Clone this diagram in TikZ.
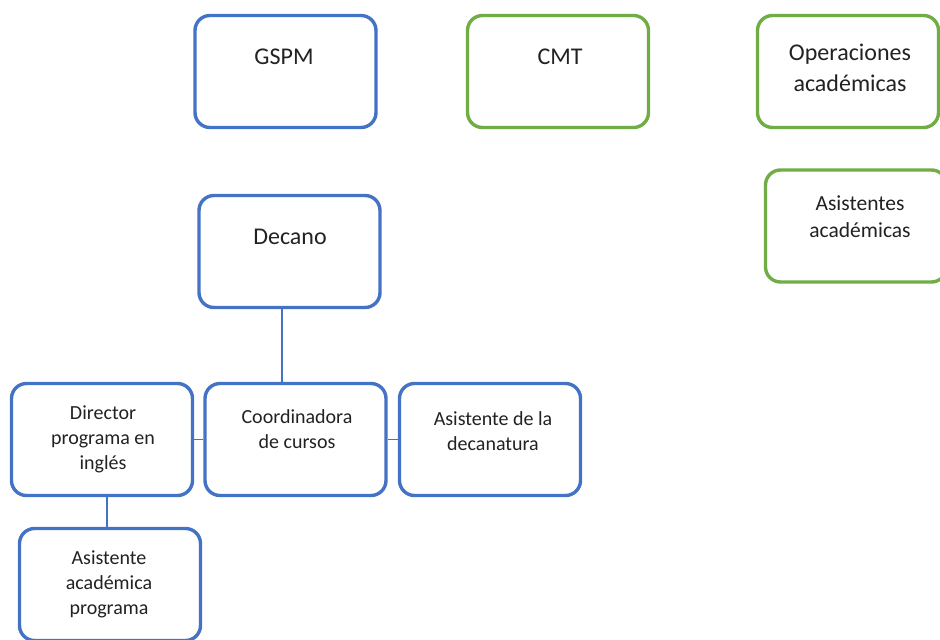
\documentclass[tikz,border=0pt]{standalone}
\usepackage{fontspec}
\setmainfont{Carlito}
\definecolor{boxblue}{HTML}{4472C4}
\definecolor{boxgreen}{HTML}{70AD47}
\definecolor{txtgray}{HTML}{222222}
\begin{document}
\begin{tikzpicture}[x=1pt,y=-1pt,
  orgbox/.style={draw=#1, line width=3.4pt, rounded corners=15pt, fill=white,
    minimum width=181pt, minimum height=112pt, inner sep=0pt},
  bigtxt/.style={text=txtgray, align=center, inner sep=0pt,
    font=\fontsize{24pt}{31pt}\selectfont},
  midtxt/.style={text=txtgray, align=center, inner sep=0pt,
    font=\fontsize{21.5pt}{27pt}\selectfont},
  smalltxt/.style={text=txtgray, align=center, inner sep=0pt,
    font=\fontsize{20pt}{25pt}\selectfont},
  link/.style={draw=boxblue, line width=1.2pt}]
\useasboundingbox (0,0) rectangle (940,640);
\clip (0,0) rectangle (940,640);

% top row
\node[orgbox=boxblue]  (gspm) at (285.5,71.5) {};
\node[orgbox=boxgreen] (cmt)  at (558,71.5) {};
\node[orgbox=boxgreen] (ops)  at (848,71.5) {};
\node[orgbox=boxgreen] (asis) at (856,226) {};
\node[bigtxt] (gspmT) at (284,57) {GSPM};
\node[bigtxt] (cmtT)  at (560,57) {CMT};
\node[bigtxt] (opsT)  at (850,68) {Operaciones\\académicas};
\node[midtxt] (asisT) at (860,216.5) {Asistentes\\académicas};

% dean and his staff
\node[orgbox=boxblue] (dec)  at (289.5,251.5) {};
\node[orgbox=boxblue] (dir)  at (102,439.5) {};
\node[orgbox=boxblue] (coo)  at (295.5,439.5) {};
\node[orgbox=boxblue] (adec) at (490,439.5) {};
\node[orgbox=boxblue] (aprog) at (110,584.5) {};
\node[bigtxt]   (decT)  at (290,237) {Decano};
\node[smalltxt] (dirT)  at (103,439) {Director\\programa en\\inglés};
\node[smalltxt] (cooT)  at (297,429) {Coordinadora\\de cursos};
\node[smalltxt] (adecT) at (493,431) {Asistente de la\\decanatura};
\node[smalltxt] (aprogT) at (109,584) {Asistente\\académica\\programa};

% connectors
\coordinate (trunk) at (282,0);
\coordinate (branch) at (107,0);
\draw[link] (trunk |- dec.south) -- (trunk |- coo.north);
\draw[link] (dir.east) -- (coo.west);
\draw[link] (coo.east) -- (adec.west);
\draw[link] (branch |- dir.south) -- (branch |- aprog.north);
\end{tikzpicture}
\end{document}
